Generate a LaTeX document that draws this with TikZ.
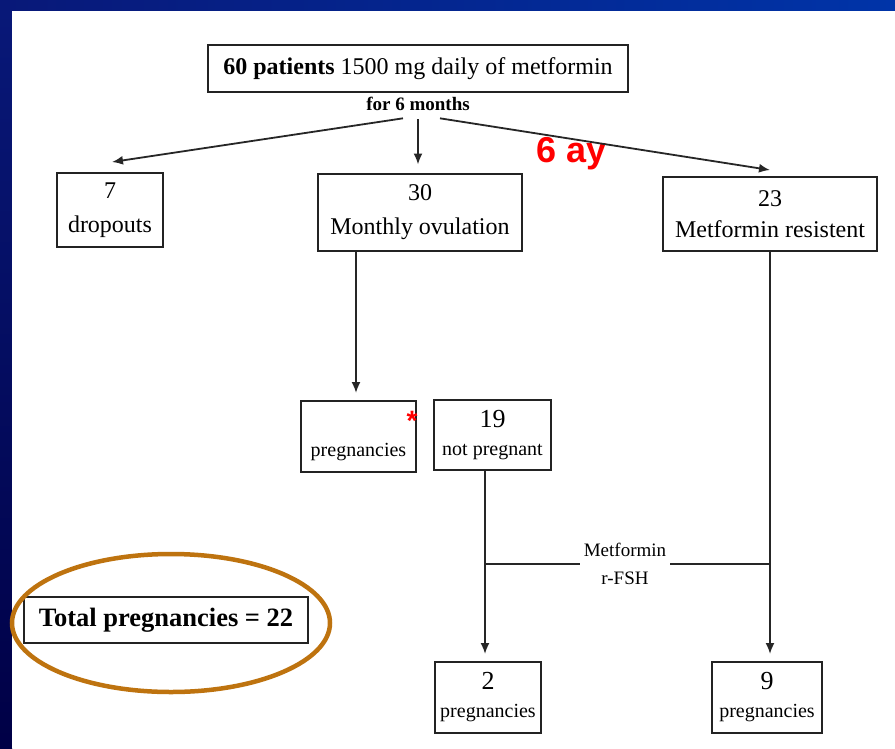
\documentclass[tikz,border=0pt]{standalone}
\usepackage{fontspec}
\setmainfont{Liberation Serif}
\newfontfamily\labelsans{Liberation Sans}
\usetikzlibrary{arrows.meta}
\definecolor{navydark}{RGB}{0,0,70}
\definecolor{navymid}{RGB}{8,24,120}
\definecolor{royal}{RGB}{0,52,168}
\definecolor{ringbrown}{RGB}{190,115,15}
\definecolor{boxline}{RGB}{35,35,35}
\newcommand{\countfont}{\fontsize{26}{30}\selectfont}
\begin{document}
\begin{tikzpicture}[x=1pt,y=-1pt,
  box/.style={draw=boxline,line width=2pt,inner sep=0pt,align=center,fill=white},
  big/.style={font=\fontsize{24}{34}\selectfont},
  small/.style={font=\fontsize{20}{28}\selectfont},
  arr/.style={draw=black!85,line width=1.8pt,-{Latex[length=11pt,width=9pt]}},
  link/.style={draw=black!85,line width=1.8pt}]
\useasboundingbox (0,0) rectangle (895,748);
% slide frame
\shade[left color=navymid,right color=royal] (0,0) rectangle (895,11);
\shade[top color=navymid,bottom color=navydark] (0,11) rectangle (12,748);
\fill[white] (12,11) rectangle (895,748);

% boxes
\node[box,big,minimum width=420pt,minimum height=47pt] (top) at (418,68.5)
  {\textbf{60 patients} 1500 mg daily of metformin};
\node[font=\bfseries\fontsize{19}{19}\selectfont] (dur) at (418,104) {for 6 months};
\node[box,big,minimum width=106pt,minimum height=74pt] (drop) at (110,210) {7\\dropouts};
\node[box,big,minimum width=204pt,minimum height=77pt] (ovul) at (420,212) {30\\Monthly ovulation};
\node[box,big,font=\fontsize{24}{31}\selectfont,minimum width=214pt,minimum height=74pt] (res) at (770,214)
  {23\\Metformin resistent};
\node[box,small,minimum width=115pt,minimum height=71pt] (preg) at (358.5,436.5)
  {{\countfont\phantom{11}}\\pregnancies};
\node[box,small,minimum width=117pt,minimum height=70pt] (notp) at (492.5,435)
  {{\countfont 19}\\not pregnant};
\node[box,small,minimum width=106pt,minimum height=71pt] (b2) at (488,697.5)
  {{\countfont 2}\\pregnancies};
\node[box,small,minimum width=110pt,minimum height=71pt] (b9) at (767,697.5)
  {{\countfont 9}\\pregnancies};
\node[box,font=\bfseries\fontsize{26.5}{26.5}\selectfont,minimum width=284pt,minimum height=46pt] (total)
  at (166,620) {Total pregnancies = 22};

% red annotations
\node[text=red,font=\labelsans\bfseries\fontsize{36}{36}\selectfont] (sixay) at (572,154) {6 ay};
\node[text=red,font=\labelsans\bfseries\fontsize{28}{28}\selectfont] (star) at (412,421) {*};

% connectors from the top box
\draw[arr] ([xshift=-15pt,yshift=-4pt]dur.south) -- ([xshift=2pt,yshift=10pt]drop.north);
\draw[arr] ([yshift=-5pt]dur.south) -- ([xshift=-2pt,yshift=8pt]ovul.north);
\draw[arr] ([xshift=22pt,yshift=-4pt]dur.south) -- ([yshift=6pt]res.north);

% second level
\coordinate (pl) at ([xshift=-2.5pt]preg.north);
\draw[arr] (ovul.south -| pl) -- ([yshift=7pt]pl);
\coordinate (nl) at ([xshift=-7.5pt]notp.south);
\draw[arr] (nl) -- ([yshift=7pt]nl |- b2.north);
\draw[arr] (res.south) -- ([yshift=7pt]res.south |- b9.north);

% combined treatment
\node[font=\fontsize{19}{28}\selectfont,align=center,inner sep=0pt,minimum width=90pt] (mf) at (625,564)
  {Metformin\\r-FSH};
\draw[link] (nl |- mf.center) -- (mf.west);
\draw[link] (mf.east) -- (res.south |- mf.center);

% highlight ring
\draw[ringbrown,line width=4.5pt] (171,623) ellipse [x radius=159pt, y radius=69pt];
\end{tikzpicture}
\end{document}
